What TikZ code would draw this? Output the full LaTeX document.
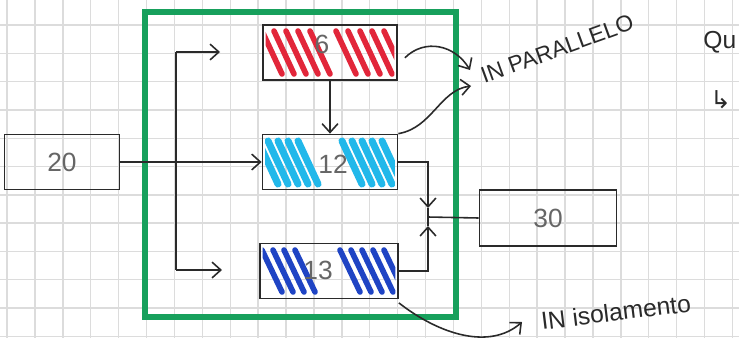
\documentclass[tikz,border=0pt]{standalone}
\usepackage{fontspec}
\setmainfont{Liberation Sans}
\newfontfamily\symfont{DejaVu Sans}
\usetikzlibrary{arrows.meta}
\definecolor{frameG}{HTML}{17A05C}
\definecolor{hred}{HTML}{E2263A}
\definecolor{hcyan}{HTML}{22B8EA}
\definecolor{hblue}{HTML}{1F44C4}
\definecolor{ink}{HTML}{2A2A2A}
\definecolor{gridc}{HTML}{DCDCDC}
\definecolor{numc}{HTML}{666666}
\begin{document}
\begin{tikzpicture}[x=0.02cm,y=-0.02cm,
  box/.style={draw=ink,line width=1pt,minimum height=1.1cm,inner sep=0pt},
  num/.style={font=\fontsize{15}{17}\selectfont,text=numc,inner sep=0pt},
  conn/.style={draw=ink,line width=0.9pt},
  arr/.style={conn,-{Straight Barb[length=5pt,width=9pt]}},
  gridline/.style={gridc,line width=0.8pt},
  hatch/.style={line width=3.2pt,line cap=round},
  label/.style={font=\fontsize{13}{15}\selectfont,text=ink,inner sep=0pt}]
\fill[white] (0,0) rectangle (739,338);
\useasboundingbox (0,0) rectangle (739,338);
% graph paper
\foreach \i in {0,...,26} \draw[gridline] ({7+27.9*\i},0) -- ({7+27.9*\i},338);
\foreach \j in {0,...,12} \draw[gridline] (0,{-3.3+28.3*\j}) -- (739,{-3.3+28.3*\j});

% boxes
\node[box,minimum width=2.3cm] (b20) at (62,162) {};
\node[box,minimum width=2.68cm] (b6) at (330,52.5) {};
\node[box,minimum width=2.7cm] (b12) at (330,162) {};
\node[box,minimum width=2.76cm] (b13) at (329,271) {};
\node[box,minimum width=2.74cm,minimum height=1.12cm] (b30) at (548,218) {};

% hatching
\begin{scope}
  \clip ([shift={(2pt,-2pt)}]b6.south west) rectangle ([shift={(-2pt,2pt)}]b6.north east);
  \foreach \x in {262,274,286,298,310,336,348,360,372,384}
    \draw[hatch,hred] (\x,31) -- (\x+20,74);
\end{scope}
\begin{scope}
  \clip ([shift={(2pt,-2pt)}]b12.south west) rectangle ([shift={(-2pt,2pt)}]b12.north east);
  \foreach \x in {258,268,278,288,298,342,352,362,372,382}
    \draw[hatch,hcyan,line width=4pt] (\x,141) -- (\x+20,184);
\end{scope}
\begin{scope}
  \clip ([shift={(2pt,-2pt)}]b13.south west) rectangle ([shift={(-2pt,2pt)}]b13.north east);
  \foreach \x in {262,273,284,295,340,351,362,373,384}
    \draw[hatch,hblue] (\x,250) -- (\x+20,292);
\end{scope}

% numbers
\node[num] (t20) at (b20) {20};
\node[num] (t6) at (322,44) {6};
\node[num] (t12) at (333,164) {12};
\node[num] (t13) at (318,270) {13};
\node[num] (t30) at (b30) {30};

% green frame
\draw[frameG,line width=3.4pt] (145,12) rectangle (456,317);

% connectors
\coordinate (top) at (176,52);
\coordinate (bot) at (176,270);
\coordinate (tt) at (220,52);
\coordinate (bt) at (222,270);
\coordinate (j) at (428,217);
\draw[arr] (b20.east) -- (b12.west);
\draw[conn] (top) -- (bot);
\draw[arr] (top) -- (tt);
\draw[arr] (bot) -- (bt);
\draw[arr] (b6.south) -- (b12.north);
\draw[arr] (b12.east) -| (428,208);
\draw[conn] (428,208) -- (j);
\draw[arr] (b13.east) -| (428,226);
\draw[conn] (428,226) -- (j);
\draw[conn] (j) -- (b30.west);

% annotation pointers
\coordinate (p1) at (470,70);
\coordinate (p2) at (471,86);
\coordinate (p3) at (522,322);
\draw[arr] ([shift={(4pt,-3pt)}]b6.east) .. controls (425,38) and (455,45) .. (p1);
\draw[arr] (b12.north east) .. controls (432,128) and (440,90) .. (p2);
\draw[arr] ([shift={(0pt,-2pt)}]b13.south east) .. controls (440,335) and (490,350) .. (p3);

% labels
\node[label,anchor=base west,rotate=20] (lpar) at (484,84) {IN PARALLELO};
\node[label,anchor=base west,rotate=7,font=\fontsize{14}{16}\selectfont] (liso) at (542,330) {IN isolamento};
\node[label,anchor=west,font=\fontsize{14}{16}\selectfont] (lqu) at (703,42) {Qu};
\node[label,anchor=west,font=\symfont\fontsize{14}{16}\selectfont] (larr) at (710,100) {↳};
\end{tikzpicture}
\end{document}
